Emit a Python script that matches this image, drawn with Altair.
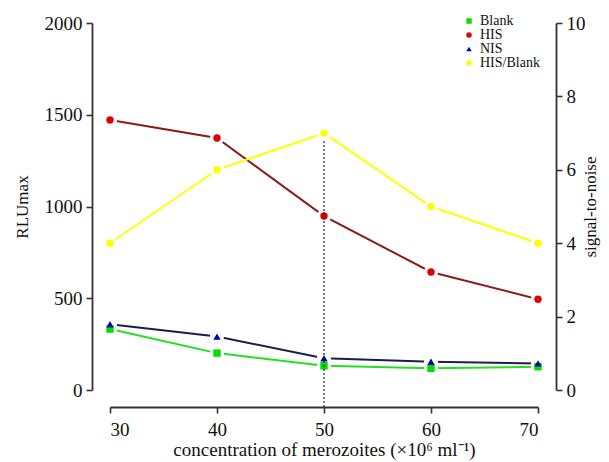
import altair as alt
import pandas as pd

# ---- data ----
conc = [30, 40, 50, 60, 70]
blank = [332, 201, 132, 118, 127]
his = [1471, 1373, 948, 643, 495]
nis = [358, 291, 173, 154, 145]
his_blank = [4, 6, 7, 5, 4]

series_names = ["Blank", "HIS", "NIS", "HIS/Blank"]
point_colors = ["#00e000", "#e00000", "#0000b0", "#ffff00"]
line_colors = ["#22e022", "#8b1a1a", "#1c1c4e", "#ffff00"]
shapes = ["square", "circle", "triangle-up", "circle"]

rows = []
for name, vals in zip(series_names, [blank, his, nis, his_blank]):
    for c, v in zip(conc, vals):
        rows.append({"conc": c, "series": name, "line": name, "value": v})
df = pd.DataFrame(rows)
legend_df = pd.DataFrame({"series": series_names})

W, H = 428, 367
FONT = "Liberation Serif"

x_enc = alt.X("conc:Q", scale=alt.Scale(domain=[30, 70], nice=False, zero=False),
              axis=alt.Axis(values=conc, offset=17, title="concentration of merozoites (×10⁶ ml⁻¹)",
                            titlePadding=1, labelPadding=7))

color_enc = alt.Color("series:N", scale=alt.Scale(domain=series_names, range=point_colors), legend=None)
shape_enc = alt.Shape("series:N", scale=alt.Scale(domain=series_names, range=shapes), legend=None)
stroke_enc = alt.Stroke("line:N", scale=alt.Scale(domain=series_names, range=line_colors), legend=None)

left_y = alt.Y("value:Q", scale=alt.Scale(domain=[0, 2000], nice=False),
               axis=alt.Axis(values=[0, 500, 1000, 1500, 2000], offset=18, title="RLUmax", format="d",
                             orient="left", titlePadding=13, titleFontSize=17))
right_y = alt.Y("value:Q", scale=alt.Scale(domain=[0, 10], nice=False),
                axis=alt.Axis(values=[0, 2, 4, 6, 8, 10], offset=18, title="signal-to-noise", format="d",
                              orient="right", titlePadding=14, titleAngle=-90, titleFontSize=17))
legend_y = alt.Y("series:N", scale=alt.Scale(type="point", domain=series_names, range=[-2, 40], padding=0),
                 axis=None)

left_base = alt.Chart(df).transform_filter("datum.series != 'HIS/Blank'")
right_base = alt.Chart(df).transform_filter("datum.series == 'HIS/Blank'")

left = alt.layer(
    left_base.mark_line(strokeWidth=2).encode(x=x_enc, y=left_y, stroke=stroke_enc),
    left_base.mark_point(shape="circle", filled=True, color="white", size=200, opacity=1).encode(x=x_enc, y=left_y),
    left_base.mark_point(filled=True, size=55, opacity=1).encode(x=x_enc, y=left_y, color=color_enc, shape=shape_enc),
)

right = alt.layer(
    right_base.transform_filter("datum.conc == 50").mark_rule(
        color="#222", strokeWidth=1.2, strokeDash=[2, 2]
    ).encode(x=x_enc, y=right_y, y2=alt.value(H + 17)),
    right_base.mark_line(strokeWidth=2).encode(x=x_enc, y=right_y, stroke=stroke_enc),
    right_base.mark_point(shape="circle", filled=True, color="white", size=200, opacity=1).encode(x=x_enc, y=right_y),
    right_base.mark_point(filled=True, size=55, opacity=1).encode(x=x_enc, y=right_y, color=color_enc, shape=shape_enc),
)

legend_layer = alt.layer(
    alt.Chart(legend_df).mark_point(filled=True, size=30, opacity=1).encode(
        x=alt.value(359), y=legend_y, color=color_enc, shape=shape_enc),
    alt.Chart(legend_df).mark_text(align="left", baseline="middle", font=FONT, fontSize=14, color="#111").encode(
        x=alt.value(370), y=legend_y, text="series:N"),
)

chart = alt.layer(left, right, legend_layer).resolve_scale(y="independent").properties(
    width=W, height=H,
    autosize=alt.AutoSizeParams(type="none"),
    padding={"left": 110, "top": 23, "right": 71, "bottom": 72},
    background="white",
).configure_view(stroke=None).configure_axis(
    grid=False,
    domainColor="#333", domainWidth=1.8,
    tickColor="#333", tickWidth=1.6, tickSize=6,
    labelFont=FONT, labelFontSize=19, labelColor="#111", labelPadding=4,
    titleFont=FONT, titleFontSize=19, titleColor="#111", titleFontWeight="normal",
)

chart.save("out.html", embed_options={"renderer": "svg", "actions": False})
